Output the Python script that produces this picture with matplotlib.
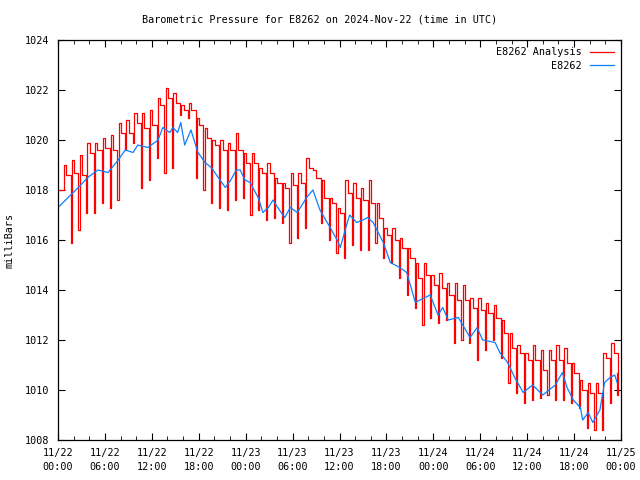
import numpy as np
import matplotlib
matplotlib.use("Agg")
import matplotlib.pyplot as plt
from matplotlib.ticker import MultipleLocator

plt.rcParams['font.family'] = ['DejaVu Sans Mono']
plt.rcParams['font.size'] = 7.3

# observed station pressure (hours since 11/22 00:00 UTC, mbar)
obs_hours = [0, 1.3, 2.6, 3.8, 5.1, 6.4, 7.7, 8.6, 9.6, 10.2, 11.5, 12.8, 13.4, 14.3,
             14.7, 15.3, 15.7, 16.2, 17.0, 17.5, 17.9, 18.8, 19.6, 20.5, 21.4, 22.1,
             22.8, 23.3, 23.9, 24.6, 24.9, 25.6, 26.2, 26.9, 27.5, 28.1, 29.0, 29.7,
             30.6, 31.8, 32.6, 33.5, 34.8, 35.7, 36.1, 37.0, 37.3, 38.2, 39.0, 39.6,
             40.3, 41.6, 42.5, 43.7, 44.6, 45.7, 46.3, 47.6, 48.6, 49.2, 49.9, 51.2,
             52.7, 53.6, 54.3, 55.9, 56.5, 57.5, 58.4, 59.5, 60.7, 62.0, 63.6, 64.5,
             65.1, 65.9, 66.8, 67.1, 67.8, 68.4, 69.3, 69.9, 70.6, 71.2, 71.5]
obs_press = [1017.3, 1017.7, 1018.1, 1018.5, 1018.8, 1018.7, 1019.2, 1019.6, 1019.5,
             1019.8, 1019.7, 1020.0, 1020.5, 1020.3, 1020.5, 1020.3, 1020.7, 1019.8,
             1020.4, 1019.9, 1019.5, 1019.1, 1018.9, 1018.5, 1018.1, 1018.4, 1018.8,
             1018.8, 1018.4, 1018.3, 1018.1, 1017.7, 1017.1, 1017.3, 1017.6, 1017.3,
             1016.9, 1017.3, 1017.1, 1017.7, 1018.0, 1017.2, 1016.5, 1016.0, 1015.7,
             1016.7, 1017.0, 1016.7, 1016.8, 1016.9, 1016.7, 1015.9, 1015.1, 1014.9,
             1014.7, 1013.5, 1013.6, 1013.8, 1013.0, 1013.3, 1012.8, 1012.9, 1012.1,
             1012.5, 1012.0, 1011.9, 1011.5, 1011.1, 1010.5, 1009.9, 1010.2, 1009.8,
             1010.2, 1010.7, 1010.1, 1009.6, 1009.3, 1008.8, 1009.1, 1008.7, 1009.2,
             1010.3, 1010.5, 1010.6, 1010.3]

# analysis: each hourly cycle = peak, later level, dip before next update
ana_start = 1018.0
ana_peak = [1019.0, 1019.2, 1019.4, 1019.9, 1019.9, 1020.1, 1020.2, 1020.7, 1020.8, 1021.1,
            1021.1, 1021.2, 1021.7, 1022.1, 1021.9, 1021.4, 1021.5, 1020.9, 1020.5, 1020.0,
            1020.0, 1019.9, 1020.3, 1019.5, 1019.5, 1018.9, 1019.1, 1018.5, 1018.3, 1018.7,
            1018.7, 1019.3, 1018.8, 1018.4, 1017.7, 1017.3, 1018.4, 1018.3, 1018.1, 1018.4,
            1017.5, 1016.5, 1016.5, 1016.1, 1015.7, 1015.1, 1015.1, 1014.6, 1014.7, 1014.3,
            1014.3, 1014.2, 1013.7, 1013.7, 1013.5, 1013.4, 1012.8, 1012.3, 1011.8, 1011.5,
            1011.8, 1011.6, 1011.6, 1011.8, 1011.7, 1011.1, 1010.4, 1010.3, 1010.3, 1011.5,
            1011.9]
ana_mid = [1018.6, 1018.7, 1018.6, 1019.5, 1019.6, 1019.7, 1019.6, 1020.3, 1020.3, 1020.7,
           1020.5, 1020.6, 1021.4, 1021.7, 1021.5, 1021.2, 1021.2, 1020.6, 1020.1, 1019.8,
           1019.6, 1019.6, 1019.6, 1019.1, 1019.1, 1018.7, 1018.7, 1018.3, 1018.1, 1018.2,
           1018.3, 1018.9, 1018.5, 1017.7, 1017.5, 1017.1, 1017.9, 1017.7, 1017.6, 1017.5,
           1016.9, 1016.2, 1016.0, 1015.7, 1015.3, 1014.5, 1014.6, 1014.2, 1014.1, 1013.8,
           1013.6, 1013.6, 1013.3, 1013.2, 1013.1, 1012.9, 1012.3, 1011.7, 1011.5, 1011.2,
           1011.2, 1010.8, 1011.2, 1011.2, 1011.1, 1010.7, 1010.0, 1009.9, 1009.9, 1011.3,
           1011.5]
ana_low = [1015.9, 1016.4, 1017.1, 1017.1, 1017.5, 1017.3, 1017.6, 1019.6, 1019.9, 1018.1,
           1018.4, 1019.3, 1018.7, 1018.9, 1021.0, 1020.9, 1018.5, 1018.0, 1017.5, 1017.3,
           1017.2, 1017.6, 1017.7, 1017.0, 1017.2, 1016.8, 1016.9, 1016.7, 1015.9, 1016.1,
           1016.5, 1018.8, 1016.7, 1016.0, 1015.5, 1015.3, 1015.8, 1015.6, 1015.6, 1015.9,
           1015.3, 1015.1, 1014.5, 1013.8, 1013.3, 1012.6, 1012.9, 1012.7, 1012.8, 1011.9,
           1012.0, 1011.9, 1011.2, 1011.6, 1012.0, 1011.3, 1010.3, 1009.9, 1009.5, 1009.6,
           1009.7, 1009.8, 1009.6, 1009.6, 1009.5, 1009.3, 1008.5, 1008.4, 1008.4, 1009.5,
           1009.8]
ana_end = 1010.7

tick_labels = ["11/22\n00:00", "11/22\n06:00", "11/22\n12:00", "11/22\n18:00",
               "11/23\n00:00", "11/23\n06:00", "11/23\n12:00", "11/23\n18:00",
               "11/24\n00:00", "11/24\n06:00", "11/24\n12:00", "11/24\n18:00",
               "11/25\n00:00"]

# build the stepped analysis trace
t_red = [0.0]
p_red = [ana_start]
for k in range(len(ana_peak)):
    t_red += [k + 0.75, k + 1.05, k + 1.6]
    p_red += [ana_peak[k], ana_mid[k], ana_low[k]]
t_red.append(71.45)
p_red.append(ana_end)
t_red.append(71.55)
p_red.append(ana_end)

fig = plt.figure(figsize=(6.4, 4.8), dpi=100, facecolor="w")
ax = fig.add_axes([58 / 640, 40 / 480, 563 / 640, 400 / 480])

ax.plot(t_red, p_red, color="#ff0000", lw=0.9, drawstyle="steps-post", label="E8262 Analysis")
ax.plot(obs_hours, obs_press, color="#0a80ff", lw=0.9, label="E8262")

ax.set_xlim(0, 72)
ax.set_ylim(1008, 1024)
ax.set_xticks(np.arange(0, 73, 6))
ax.set_xticklabels(tick_labels, linespacing=1.5)
ax.xaxis.set_minor_locator(MultipleLocator(2))
ax.set_yticks(np.arange(1008, 1025, 2))
ax.tick_params(which="both", direction="in", top=True, right=True, color="k")
ax.tick_params(which="major", length=5, pad=6)
ax.tick_params(which="minor", length=3)
for s in ax.spines.values():
    s.set_linewidth(0.9)

fig.text(10 / 640, 0.5, "milliBars", rotation=90, ha="center", va="center")
fig.text(0.5, 1 - 20 / 480, "Barometric Pressure for E8262 on 2024-Nov-22 (time in UTC)",
         ha="center", va="center")

ax.legend(loc="upper right", frameon=False, markerfirst=False, handlelength=2.4,
          borderaxespad=0.3, labelspacing=0.35, handletextpad=0.8)

plt.savefig("out.png", dpi=100)
